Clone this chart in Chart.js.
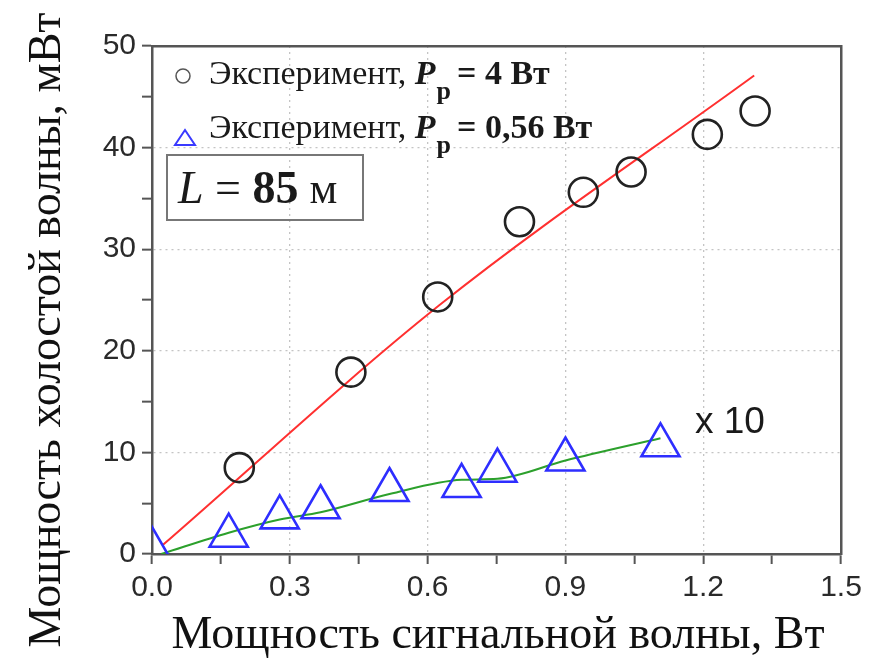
<!DOCTYPE html>
<html>
<head>
<meta charset="utf-8">
<script src="https://cdn.jsdelivr.net/npm/chart.js@4.4.0/dist/chart.umd.min.js"></script>
<style>
  html, body { margin: 0; padding: 0; background: #fff; }
</style>
</head>
<body>
<canvas id="myChart" width="876" height="667"></canvas>
<script>
// Эксперимент, Pp = 4 Вт (кружки)
const highX = [0.19, 0.433, 0.622, 0.80, 0.939, 1.043, 1.209, 1.313];
const highY = [8.5, 17.9, 25.3, 32.7, 35.6, 37.6, 41.3, 43.6];
// Эксперимент, Pp = 0,56 Вт (треугольники, x 10)
const lowX = [0.0, 0.167, 0.278, 0.367, 0.517, 0.674, 0.752, 0.90, 1.107];
const lowY = [0.5, 1.8, 3.6, 4.6, 6.3, 6.7, 8.2, 9.3, 10.7];
// линии аппроксимации
const fitHighX = [0.024, 0.626, 1.311];
const fitHighY = [0.9, 24.5, 47.1];
const fitLowX = [0.02, 0.167, 0.278, 0.367, 0.517, 0.674, 0.752, 0.90, 1.107];
const fitLowY = [0.0, 2.1, 3.4, 4.1, 5.9, 7.3, 7.4, 9.2, 11.4];
// подписи делений
const xTicks = [0, 0.3, 0.6, 0.9, 1.2, 1.5];
const yTicks = [0, 10, 20, 30, 40, 50];

const toPoints = (xs, ys) => xs.map((x, i) => ({ x: x, y: ys[i] }));
const isMajor = (list, v) => list.some(t => Math.abs(t - v) < 1e-6);

const serif = "'Liberation Serif', 'Times New Roman', serif";
const sans = "'Liberation Sans', Arial, sans-serif";

// текст из нескольких кусков с разными шрифтами
function richText(ctx, x, y, parts) {
  parts.forEach(p => {
    ctx.font = p.font;
    ctx.fillText(p.text, x, y + (p.dy || 0));
    x += ctx.measureText(p.text).width + (p.gap || 0);
  });
}

const annotations = {
  id: "annotations",
  afterDraw(chart) {
    const ctx = chart.ctx;
    ctx.save();
    ctx.fillStyle = "#1a1a1a";
    ctx.textBaseline = "alphabetic";
    ctx.textAlign = "left";

    // легенда
    ctx.strokeStyle = "#555";
    ctx.lineWidth = 1.5;
    ctx.beginPath();
    ctx.arc(183, 76, 7, 0, Math.PI * 2);
    ctx.stroke();

    ctx.strokeStyle = "#3a3aff";
    ctx.lineWidth = 2;
    ctx.beginPath();
    ctx.moveTo(185, 130);
    ctx.lineTo(195, 145);
    ctx.lineTo(175, 145);
    ctx.closePath();
    ctx.stroke();

    richText(ctx, 209, 84, [
      { text: "Эксперимент, ", font: "34px " + serif },
      { text: "P", font: "italic bold 34px " + serif, gap: 1 },
      { text: "р", font: "bold 26px " + serif, dy: 15, gap: 6 },
      { text: "= 4 Вт", font: "bold 34px " + serif }
    ]);
    richText(ctx, 209, 138, [
      { text: "Эксперимент, ", font: "34px " + serif },
      { text: "P", font: "italic bold 34px " + serif, gap: 1 },
      { text: "р", font: "bold 26px " + serif, dy: 15, gap: 6 },
      { text: "= 0,56 Вт", font: "bold 34px " + serif }
    ]);

    // рамка L = 85 м
    ctx.strokeStyle = "#777";
    ctx.lineWidth = 2;
    ctx.strokeRect(167, 155, 196, 65);
    richText(ctx, 178, 203, [
      { text: "L", font: "italic 46px " + serif },
      { text: " = ", font: "46px " + serif },
      { text: "85", font: "bold 46px " + serif },
      { text: " м", font: "44px " + serif }
    ]);

    // x 10
    ctx.font = "37px " + sans;
    ctx.fillText("x 10", 695, 433);

    // подписи осей
    ctx.fillStyle = "#111";
    ctx.font = "46px " + serif;
    ctx.textAlign = "center";
    ctx.fillText("Мощность сигнальной волны, Вт", 498, 648);

    ctx.translate(60, 330);
    ctx.rotate(-Math.PI / 2);
    ctx.fillText("Мощность холостой волны, мВт", 0, 0);
    ctx.restore();
  }
};

const gridColor = list => c => (c.tick && isMajor(list, c.tick.value) && c.tick.value > 0 && !isMajor([list[list.length - 1]], c.tick.value)) ? "#c4c4c4" : "rgba(0,0,0,0)";

const config = {
  type: "scatter",
  data: {
    datasets: [
      {
        label: "Эксперимент, Pp = 4 Вт",
        data: toPoints(highX, highY),
        pointStyle: "circle",
        pointRadius: 14.5,
        borderWidth: 2.6,
        borderColor: "#222",
        backgroundColor: "rgba(0,0,0,0)",
        clip: 0
      },
      {
        label: "Эксперимент, Pp = 0,56 Вт",
        data: toPoints(lowX, lowY),
        pointStyle: "triangle",
        pointRadius: 22,
        borderWidth: 2.6,
        borderColor: "#2e2eff",
        backgroundColor: "rgba(0,0,0,0)",
        clip: 0
      },
      {
        label: "fit 4 Вт",
        data: toPoints(fitHighX, fitHighY),
        showLine: true,
        pointRadius: 0,
        borderColor: "#ff3030",
        borderWidth: 2,
        cubicInterpolationMode: "monotone",
        clip: 0
      },
      {
        label: "fit 0,56 Вт",
        data: toPoints(fitLowX, fitLowY),
        showLine: true,
        pointRadius: 0,
        borderColor: "#2ca02c",
        borderWidth: 2,
        cubicInterpolationMode: "monotone",
        clip: 0
      }
    ]
  },
  options: {
    responsive: false,
    animation: false,
    events: [],
    layout: { padding: { left: 0, top: 46, right: 35, bottom: 0 } },
    plugins: {
      legend: { display: false },
      tooltip: { enabled: false }
    },
    scales: {
      x: {
        type: "linear",
        position: "bottom",
        min: 0,
        max: 1.5,
        afterFit: s => { s.height = 113; },
        ticks: {
          stepSize: 0.15,
          autoSkip: false,
          maxRotation: 0,
          padding: 6,
          color: "#2a2a2a",
          font: { family: sans, size: 30 },
          callback: v => isMajor(xTicks, v) ? v.toFixed(1) : ""
        },
        grid: {
          color: gridColor(xTicks),
          lineWidth: 1.3,
          tickColor: "#555",
          tickLength: 10,
          tickWidth: 2
        },
        border: { color: "#555", width: 2.5, dash: [2, 4] }
      },
      y: {
        type: "linear",
        position: "left",
        min: 0,
        max: 50,
        afterFit: s => { s.width = 152; },
        ticks: {
          stepSize: 5,
          autoSkip: false,
          padding: 6,
          color: "#2a2a2a",
          font: { family: sans, size: 30 },
          callback: v => isMajor(yTicks, v) ? String(v) : ""
        },
        grid: {
          color: gridColor(yTicks),
          lineWidth: 1.3,
          tickColor: "#555",
          tickLength: 10,
          tickWidth: 2
        },
        border: { color: "#555", width: 2.5, dash: [2, 4] }
      },
      x2: {
        type: "linear",
        position: "top",
        min: 0,
        max: 1.5,
        afterFit: s => { s.height = 0; },
        ticks: { display: false },
        grid: { display: false, drawTicks: false },
        border: { display: true, color: "#555", width: 2.5 }
      },
      y2: {
        type: "linear",
        position: "right",
        min: 0,
        max: 50,
        afterFit: s => { s.width = 0; },
        ticks: { display: false },
        grid: { display: false, drawTicks: false },
        border: { display: true, color: "#555", width: 2.5 }
      }
    }
  },
  plugins: [annotations]
};

const ctx = document.getElementById("myChart").getContext("2d");
new Chart(ctx, config);
</script>
</body>
</html>
